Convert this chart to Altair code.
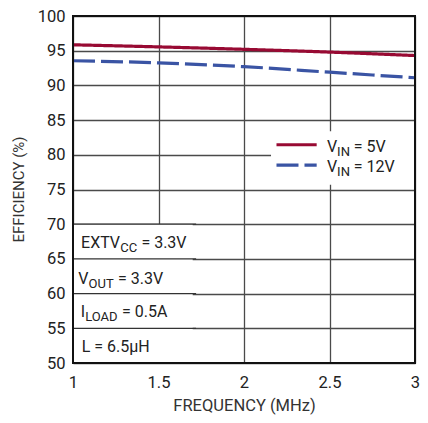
import altair as alt
import pandas as pd

FONT = "Roboto, sans-serif"

freq = [1.0, 1.5, 2.0, 2.5, 3.0]
eff_5v = [95.85, 95.55, 95.2, 94.8, 94.3]
eff_12v = [93.55, 93.25, 92.7, 91.9, 91.1]
x_ticks = [1, 1.5, 2, 2.5, 3]
y_ticks = [50, 55, 60, 65, 70, 75, 80, 85, 90, 95, 100]

RED = "#980a33"
BLUE = "#3a54a4"

lines_df = pd.DataFrame({
    "f": freq + freq,
    "e": eff_5v + eff_12v,
    "s": ["5V"] * len(freq) + ["12V"] * len(freq),
})

W, H = 342, 347
xs = alt.Scale(domain=[1, 3], nice=False, zero=False)
ys = alt.Scale(domain=[50, 100], nice=False, zero=False)

axX = alt.Axis(
    values=x_ticks, title="FREQUENCY (MHz)", labelExpr="datum.value",
    grid=True, gridColor="#4a4a4a", gridWidth=1.3, ticks=False, domain=False,
    labelPadding=11, labelFontSize=16.5, labelFont=FONT, labelColor="#222",
    titleFont=FONT, titleFontSize=16.5, titleFontWeight="normal", titleColor="#333",
    titleBaseline="alphabetic", titleY=47,
    labelOverlap=False, labelFlush=False)
axY = alt.Axis(
    values=y_ticks, title="EFFICIENCY (%)",
    grid=True, gridColor="#4a4a4a", gridWidth=1.3, ticks=False, domain=False,
    labelPadding=8, labelFontSize=16.5, labelFont=FONT, labelColor="#222",
    titleFont=FONT, titleFontSize=15, titleFontWeight="normal", titleColor="#333",
    titleBaseline="alphabetic", titleX=-50, titleY=173, titleAlign="center",
    labelOverlap=False, labelFlush=False)

col_scale = alt.Scale(domain=["5V", "12V"], range=[RED, BLUE])
dash_scale = alt.Scale(domain=["5V", "12V"], range=[[1, 0], [22, 6]])

lines = alt.Chart(lines_df).mark_line(strokeWidth=3.2, interpolate="monotone").encode(
    x=alt.X("f:Q", scale=xs, axis=axX),
    y=alt.Y("e:Q", scale=ys, axis=axY),
    color=alt.Color("s:N", scale=col_scale, legend=None),
    strokeDash=alt.StrokeDash("s:N", scale=dash_scale, legend=None),
)

# white boxes behind annotation and legend
boxes_df = pd.DataFrame({
    "x1": [1.0, 2.158], "x2": [1.70, 3.0],
    "y1": [50.0, 75.7], "y2": [70.0, 83.4],
})
boxes = alt.Chart(boxes_df).mark_rect(fill="white").encode(
    x=alt.X("x1:Q", scale=xs, axis=axX), x2="x2:Q",
    y=alt.Y("y1:Q", scale=ys, axis=axY), y2="y2:Q")

hgrid_df = pd.DataFrame({"y": [55, 60, 65, 70], "x1": [1.0] * 4, "x2": [1.72] * 4})
hgrid = alt.Chart(hgrid_df).mark_rule(color="#333", strokeWidth=1.3).encode(
    x=alt.X("x1:Q", scale=xs, axis=axX), x2="x2:Q",
    y=alt.Y("y:Q", scale=ys, axis=axY))

frame_df = pd.DataFrame({"x1": [1.0], "x2": [3.0], "y1": [50.0], "y2": [100.0]})
frame = alt.Chart(frame_df).mark_rect(fill=None, stroke="#111", strokeWidth=2).encode(
    x=alt.X("x1:Q", scale=xs, axis=axX), x2="x2:Q",
    y=alt.Y("y1:Q", scale=ys, axis=axY), y2="y2:Q")

# legend lines
leg_df = pd.DataFrame({"x1": [2.19, 2.19], "x2": [2.425, 2.425], "y": [81.45, 78.5], "s": ["5V", "12V"]})
leg_lines = alt.Chart(leg_df).mark_rule(strokeWidth=3.2).encode(
    x=alt.X("x1:Q", scale=xs, axis=axX), x2="x2:Q",
    y=alt.Y("y:Q", scale=ys, axis=axY),
    color=alt.Color("s:N", scale=col_scale, legend=None),
    strokeDash=alt.StrokeDash("s:N", scale=dash_scale, legend=None),
)

# text parts (main + subscripts)
main_txt = pd.DataFrame({
    "t": ["V", "= 5V", "V", "= 12V",
          "EXTV", "= 3.3V", "V", "= 3.3V", "I", "= 0.5A", "L = 6.5\u03bcH"],
    "x": [2.485, 2.642, 2.485, 2.642,
          1.047, 1.400, 1.031, 1.263, 1.045, 1.287, 1.051],
    "y": [80.41, 80.41, 77.58, 77.58,
          66.57, 66.57, 61.37, 61.37, 56.56, 56.56, 51.6],
})
sub_txt = pd.DataFrame({
    "t": ["IN", "IN", "CC", "OUT", "LOAD"],
    "x": [2.5445, 2.5445, 1.276, 1.091, 1.071],
    "y": [80.41, 77.58, 66.57, 61.37, 56.56],
})
main_text = alt.Chart(main_txt).mark_text(
    align="left", baseline="alphabetic", font=FONT, fontSize=16, color="#222").encode(
    x=alt.X("x:Q", scale=xs, axis=axX), y=alt.Y("y:Q", scale=ys, axis=axY), text="t:N")
sub_text = alt.Chart(sub_txt).mark_text(
    align="left", baseline="alphabetic", font=FONT, fontSize=13, color="#222", dy=4).encode(
    x=alt.X("x:Q", scale=xs, axis=axX), y=alt.Y("y:Q", scale=ys, axis=axY), text="t:N")

chart = alt.layer(lines, boxes, hgrid, leg_lines, main_text, sub_text, frame).properties(
    width=W, height=H,
    autosize=alt.AutoSizeParams(type="none"),
    padding={"left": 65, "top": 8, "right": 5, "bottom": 52},
).configure_view(stroke=None)

chart.save("out.html", embed_options={"renderer": "svg", "actions": False})
